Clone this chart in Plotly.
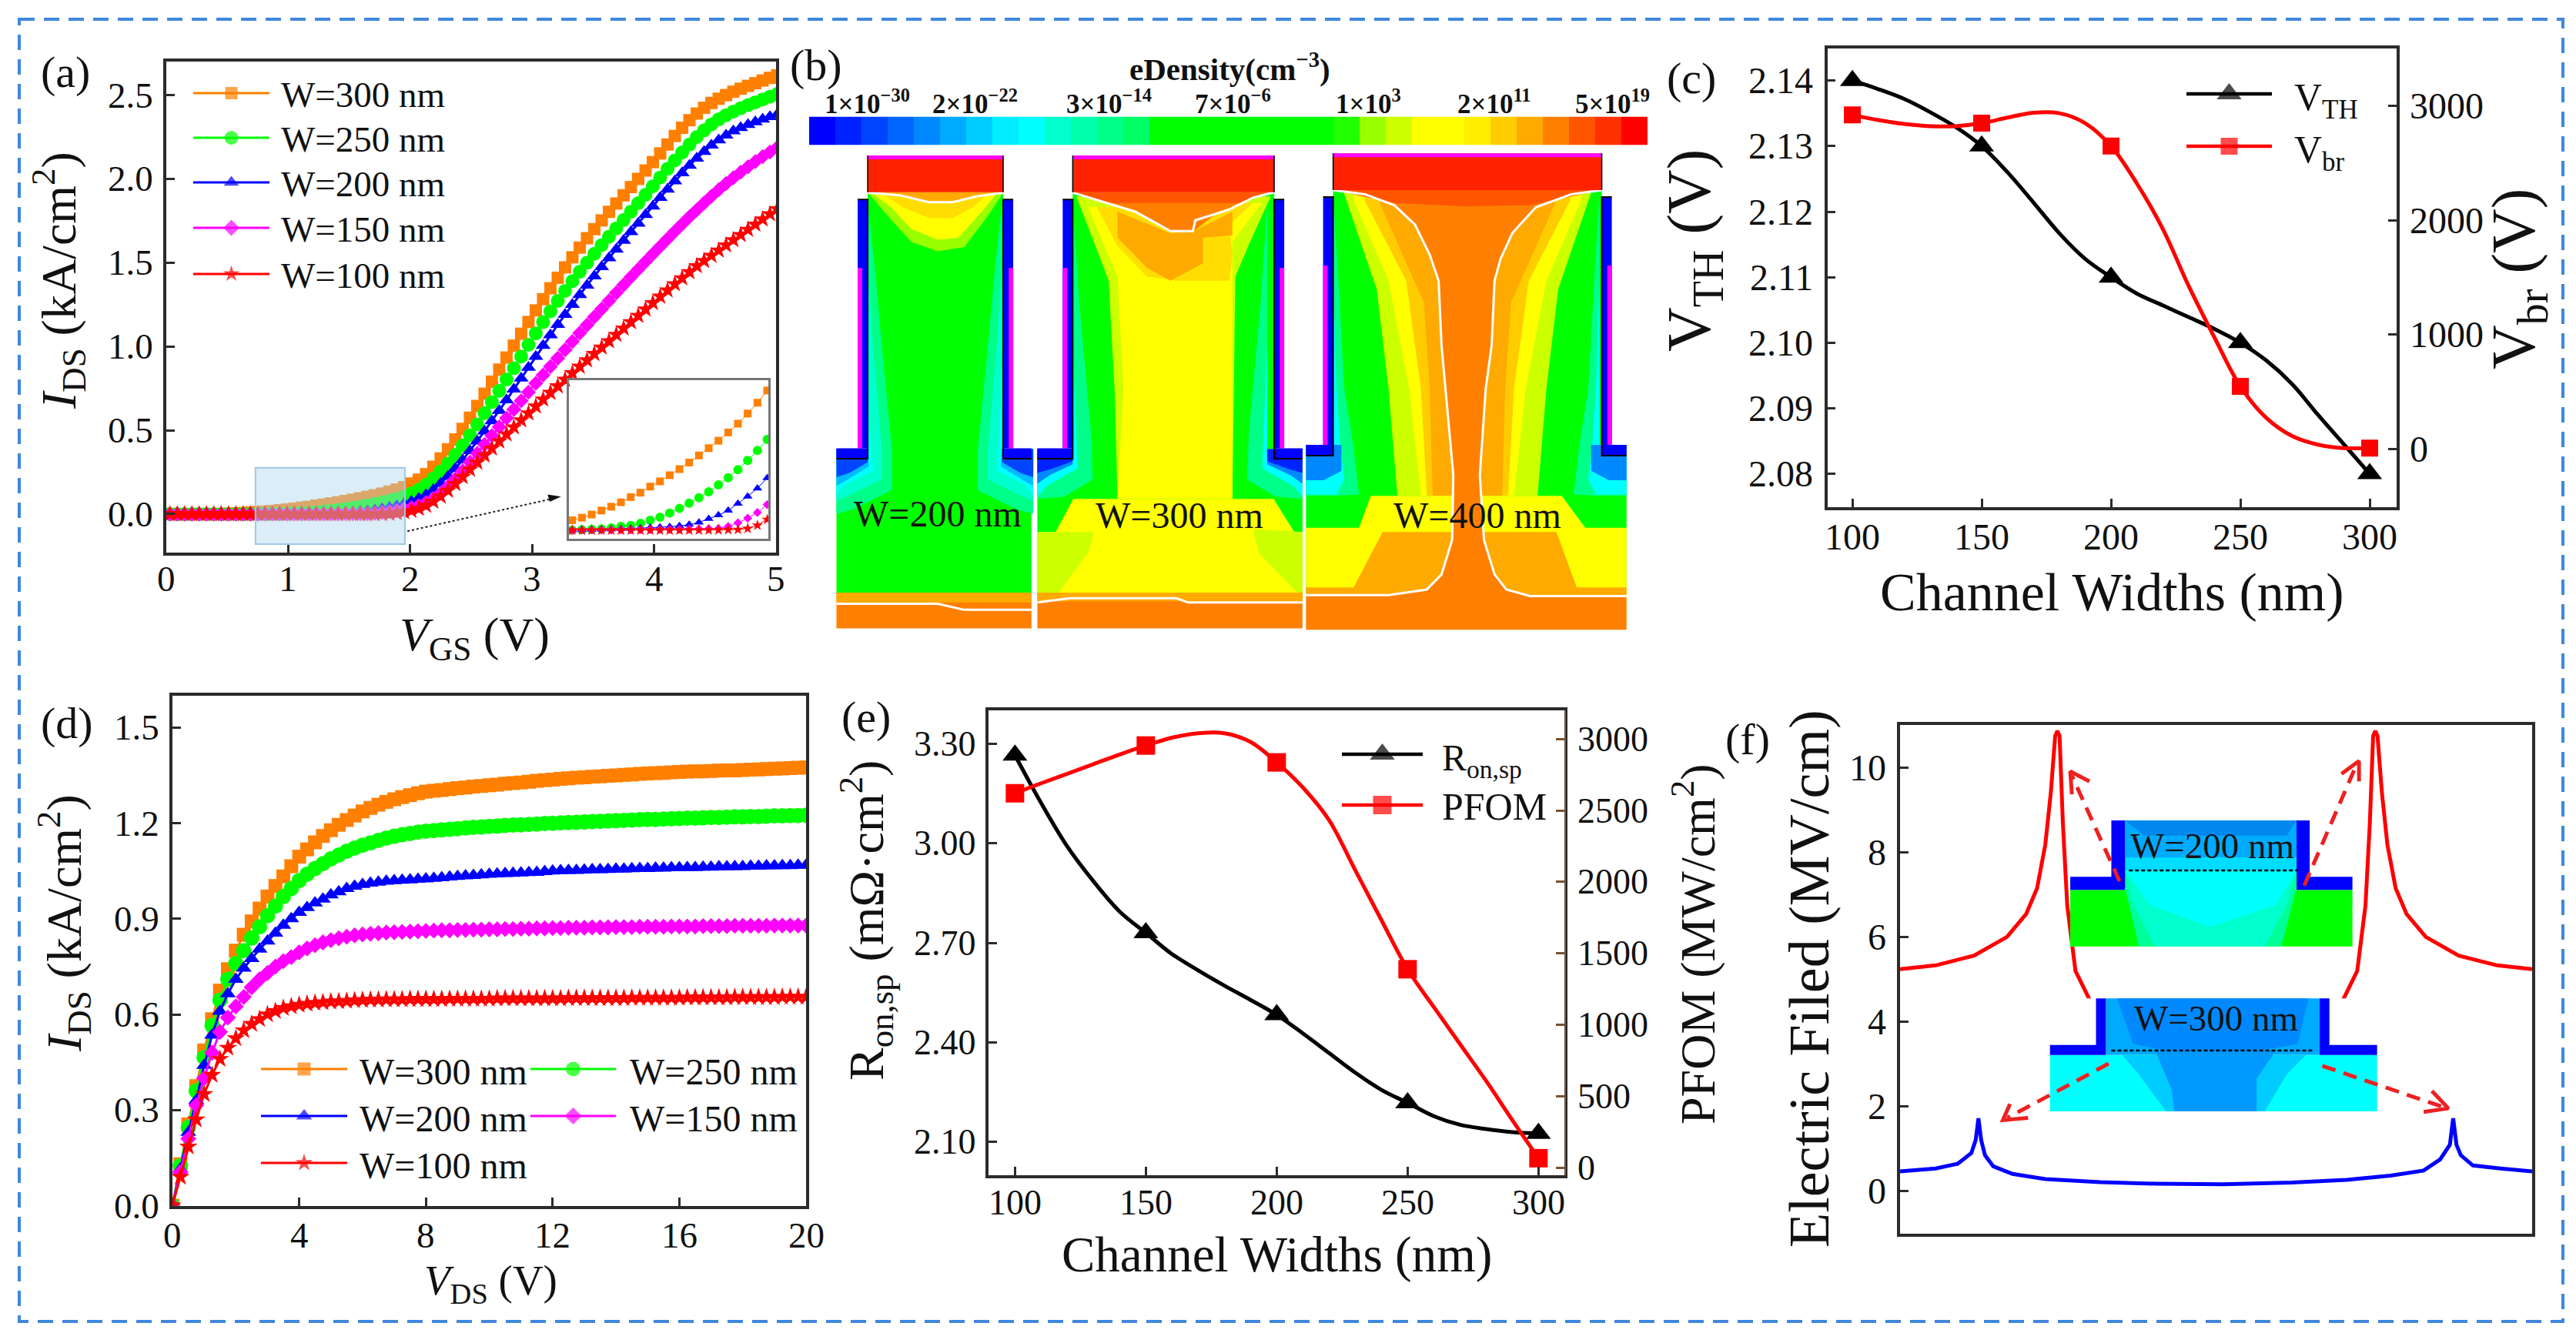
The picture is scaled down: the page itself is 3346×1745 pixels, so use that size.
import plotly.graph_objects as go

W, H = 3346, 1745
SERIF = "Liberation Serif"
AX = "#2b2b2b"

# (a) transfer curves, one point every 0.06 V
vgs = [round(0.03 + 0.06 * i, 2) for i in range(84)]
id_300 = [0, 0, 0, 0, 0, 0, 0, 0, .002, .004, .006, .009,
          .0115, .0144, .018, .0226, .027, .032, .038, .043, .05, .056, .063, .070, .0775, .0857, .094, .1025, .112, .122, .1336, .146, .16,
          .182, .205, .238, .282, .332, .386, .445, .508, .575, .645, .718, .79, .862, .934, 1.005, 1.076, 1.146, 1.215, 1.282, 1.347, 1.41,
          1.472, 1.532, 1.59, 1.646, 1.70, 1.752, 1.803, 1.853, 1.902, 1.951, 2.0, 2.05, 2.10, 2.152, 2.205, 2.256, 2.305, 2.35, 2.39, 2.424,
          2.453, 2.478, 2.5, 2.52, 2.538, 2.555, 2.571, 2.587, 2.603, 2.618]
id_250 = [0, 0, 0, 0, 0, 0, 0, 0, 0, 0, 0, .0001,
          .0003, .0006, .001, .0015, .0026, .0044, .0056, .0079, .0114, .015, .0197, .025, .0311, .0372, .044, .052, .0602, .0693, .0799, .0913, .1039,
          .122, .145, .175, .212, .255, .302, .353, .41, .47, .535, .602, .668, .735, .803, .87, .94, 1.01, 1.078, 1.145, 1.21, 1.272,
          1.332, 1.39, 1.446, 1.5, 1.553, 1.605, 1.655, 1.705, 1.755, 1.805, 1.855, 1.905, 1.956, 2.008, 2.06, 2.11, 2.158, 2.205, 2.25, 2.29,
          2.325, 2.355, 2.38, 2.402, 2.422, 2.44, 2.457, 2.474, 2.49, 2.506]
id_200 = [0, 0, 0, 0, 0, 0, 0, 0, 0, 0, 0, 0,
          .0003, .0005, .0007, .001, .0013, .0017, .002, .0025, .003, .0035, .004, .005, .0065, .009, .0132, .0173, .0226, .0305, .0388, .048, .06,
          .075, .093, .115, .145, .182, .225, .272, .322, .377, .435, .495, .555, .617, .68, .745, .81, .875, .94, 1.005, 1.068, 1.13,
          1.19, 1.25, 1.308, 1.365, 1.42, 1.475, 1.528, 1.58, 1.632, 1.684, 1.735, 1.786, 1.837, 1.888, 1.938, 1.987, 2.035, 2.08, 2.123, 2.163,
          2.2, 2.232, 2.26, 2.285, 2.305, 2.323, 2.34, 2.355, 2.37, 2.385]
id_150 = [0, 0, 0, 0, 0, 0, 0, 0, 0, 0, 0, 0,
          .0001, .0002, .0002, .0003, .0004, .0005, .0006, .0007, .0008, .0009, .001, .0012, .0014, .0016, .0018, .002, .0044, .0085, .0138, .0203, .0294,
          .038, .05, .068, .093, .125, .165, .21, .258, .31, .362, .415, .468, .52, .572, .624, .676, .728, .78, .83, .88, .93,
          .98, 1.03, 1.08, 1.128, 1.176, 1.224, 1.272, 1.32, 1.367, 1.414, 1.46, 1.506, 1.552, 1.597, 1.642, 1.686, 1.73, 1.773, 1.815, 1.856,
          1.896, 1.935, 1.972, 2.007, 2.04, 2.072, 2.103, 2.133, 2.16, 2.188]
id_100 = [0, 0, 0, 0, 0, 0, 0, 0, 0, 0, 0, 0,
          0, 0, 0, 0, 0, 0, 0, 0, 0, 0, 0, 0, .0001, .0001, .0002, .0003, .0005, .0008, .002, .0056, .0123,
          .02, .032, .05, .075, .105, .14, .18, .222, .265, .308, .35, .392, .434, .476, .518, .56, .602, .643, .684, .724, .763,
          .802, .841, .88, .918, .956, .994, 1.032, 1.07, 1.108, 1.146, 1.184, 1.222, 1.26, 1.298, 1.335, 1.372, 1.408, 1.444, 1.48, 1.511,
          1.542, 1.573, 1.604, 1.635, 1.666, 1.697, 1.728, 1.759, 1.79, 1.82]

# (d) output curves, one point every 0.25 V
vds = [round(0.25 * i, 2) for i in range(81)]
od_300 = [0, .13, .255, .375, .487, .585, .675, .742, .80, .85, .892, .932, .97, 1.003, 1.033, 1.065, 1.095, 1.118, 1.14, 1.16, 1.178,
          1.195, 1.21, 1.224, 1.237, 1.248, 1.258, 1.267, 1.275, 1.282, 1.288, 1.294, 1.299, 1.302, 1.304, 1.307, 1.31, 1.312, 1.315, 1.317, 1.319,
          1.321, 1.324, 1.326, 1.328, 1.33, 1.333, 1.335, 1.337, 1.339, 1.341, 1.343, 1.344, 1.346, 1.347, 1.349, 1.35, 1.352, 1.353, 1.355, 1.356,
          1.357, 1.358, 1.36, 1.361, 1.362, 1.363, 1.363, 1.364, 1.365, 1.366, 1.366, 1.367, 1.368, 1.369, 1.37, 1.371, 1.372, 1.373, 1.374, 1.375]
od_250 = [0, .125, .245, .36, .465, .565, .645, .71, .76, .80, .84, .875, .91, .94, .97, .995, 1.02, 1.04, 1.058, 1.073, 1.088,
          1.10, 1.112, 1.122, 1.131, 1.138, 1.146, 1.153, 1.159, 1.164, 1.168, 1.172, 1.175, 1.177, 1.179, 1.181, 1.183, 1.185, 1.187, 1.188, 1.19,
          1.191, 1.193, 1.194, 1.195, 1.196, 1.197, 1.199, 1.2, 1.201, 1.202, 1.203, 1.204, 1.205, 1.206, 1.207, 1.208, 1.209, 1.21, 1.211, 1.212,
          1.212, 1.213, 1.214, 1.215, 1.216, 1.216, 1.217, 1.218, 1.218, 1.219, 1.22, 1.22, 1.221, 1.221, 1.222, 1.223, 1.223, 1.224, 1.224, 1.225]
od_200 = [0, .115, .23, .33, .44, .535, .61, .665, .71, .745, .775, .805, .83, .855, .88, .90, .92, .935, .95, .962, .975,
          .985, .995, 1.002, 1.008, 1.012, 1.015, 1.018, 1.02, 1.021, 1.022, 1.024, 1.025, 1.027, 1.029, 1.031, 1.033, 1.035, 1.036, 1.038, 1.04,
          1.041, 1.042, 1.043, 1.044, 1.045, 1.046, 1.048, 1.05, 1.051, 1.052, 1.052, 1.053, 1.054, 1.054, 1.055, 1.056, 1.056, 1.057, 1.058, 1.058,
          1.059, 1.059, 1.06, 1.06, 1.061, 1.061, 1.062, 1.062, 1.063, 1.063, 1.064, 1.064, 1.065, 1.065, 1.066, 1.066, 1.067, 1.067, 1.068, 1.068]
od_150 = [0, .105, .21, .315, .40, .48, .545, .59, .625, .655, .685, .71, .73, .75, .767, .78, .795, .807, .817, .826, .833,
          .839, .844, .848, .851, .853, .855, .857, .858, .859, .86, .861, .862, .863, .864, .864, .865, .865, .866, .866, .867,
          .867, .868, .868, .869, .869, .87, .87, .871, .871, .872, .872, .872, .873, .873, .873, .874, .874, .874, .875, .875,
          .875, .875, .876, .876, .876, .876, .877, .877, .877, .877, .878, .878, .878, .878, .878, .879, .879, .879, .879, .879]
od_100 = [0, .09, .185, .27, .35, .41, .46, .495, .525, .55, .57, .585, .60, .61, .62, .625, .63, .633, .636, .638, .64,
          .641, .642, .644, .645, .646, .646, .647, .647, .647, .648, .648, .648, .648, .648, .649, .649, .649, .649, .649, .649,
          .65, .65, .65, .65, .65, .65, .65, .65, .65, .651, .651, .651, .651, .651, .651, .651, .651, .652, .652, .652,
          .652, .652, .652, .652, .653, .653, .653, .653, .653, .653, .654, .654, .654, .654, .654, .654, .655, .655, .655, .655]

# (c) threshold and breakdown
widths = [100, 150, 200, 250, 300]
vth_pts = [2.14, 2.13, 2.11, 2.10, 2.08]
vbr_pts = [2921, 2849, 2649, 547, 8]
width_curve = [100, 110, 120, 130, 140, 150, 160, 170, 180, 190, 200, 210, 220, 230, 240, 250, 260, 270, 280, 290, 300]
vth_curve = [2.14, 2.1387, 2.1372, 2.1352, 2.1329, 2.13, 2.126, 2.1214, 2.1167, 2.1128, 2.11, 2.1075, 2.1057, 2.1039, 2.1021, 2.10, 2.0973, 2.0937, 2.089, 2.0845, 2.08]
vbr_curve = [2921, 2876, 2842, 2823, 2823, 2849, 2898, 2940, 2936, 2849, 2649, 2321, 1925, 1427, 975, 547, 272, 113, 38, 8, 8]

# (e) on resistance and PFOM
ron_pts = [3.265, 2.73, 2.483, 2.218, 2.126]
pfom_pts = [2620, 2954, 2836, 1389, 67]
ron_curve = [3.265, 3.121, 2.99, 2.885, 2.794, 2.73, 2.666, 2.617, 2.571, 2.528, 2.483, 2.427, 2.368, 2.309, 2.257, 2.218, 2.178, 2.152, 2.139, 2.13, 2.126]
pfom_curve = [2620, 2690, 2757, 2824, 2891, 2954, 3009, 3040, 3040, 2979, 2836, 2660, 2432, 2082, 1733, 1389, 1125, 866, 608, 334, 67]

# (f) field along the cut line, x has no unit on the chart
pos_200 = [0, 65, 135, 195, 230, 250, 265, 275, 283, 287, 291, 297, 305, 320, 345, 390, 577, 764, 809, 834, 849, 857, 863, 867, 871, 879, 889, 904, 924, 959, 1019, 1089, 1153]
field_200 = [5.24, 5.33, 5.56, 6.0, 6.54, 7.15, 8.18, 9.4, 10.74, 10.86, 10.74, 8.69, 6.74, 5.2, 4.54, 3.9, 3.3, 3.9, 4.54, 5.2, 6.74, 8.69, 10.74, 10.86, 10.74, 9.4, 8.18, 7.15, 6.54, 6.0, 5.56, 5.33, 5.24]
pos_300 = [0, 65, 105, 130, 138, 143, 148, 155, 170, 205, 265, 365, 465, 590, 715, 815, 895, 955, 985, 1003, 1009, 1015, 1023, 1045, 1095, 1153]
field_300 = [.47, .54, .65, .9, 1.21, 1.72, 1.21, .85, .59, .41, .29, .215, .18, .165, .205, .27, .37, .49, .75, 1.1, 1.72, 1.1, .85, .61, .54, .47]

# tick values
a_xt = [0, 1, 2, 3, 4, 5]
a_yt = [0, .5, 1, 1.5, 2, 2.5]
c_yt = [2.08, 2.09, 2.10, 2.11, 2.12, 2.13, 2.14]
c_rt = [0, 1000, 2000, 3000]
d_xt = [0, 4, 8, 12, 16, 20]
d_yt = [0, .3, .6, .9, 1.2, 1.5]
e_yt = [2.1, 2.4, 2.7, 3.0, 3.3]
e_rt = [0, 500, 1000, 1500, 2000, 2500, 3000]
f_yt = [0, 2, 4, 6, 8, 10]

# (b) colour bar bands
band_colors = ["#0000ff", "#0022ff", "#0044ff", "#0066ff", "#0088ff", "#00aaff", "#00ccff", "#00eeff",
               "#00ffff", "#00ffcc", "#00ffaa", "#00ff88", "#00ff66", "#00ff00", "#00ff00",
               "#00ff00", "#00ff00", "#00ff00", "#00ff00", "#00ff00", "#22ff00", "#99ff00", "#ccff00",
               "#ffff00", "#ffff00", "#ffee00", "#ffcc00", "#ffaa00", "#ff8000", "#ff5500", "#ff3000", "#ff0000"]
band_ticks = ["1×10<sup>−30</sup>", "2×10<sup>−22</sup>", "3×10<sup>−14</sup>", "7×10<sup>−6</sup>", "1×10<sup>3</sup>", "2×10<sup>11</sup>", "5×10<sup>19</sup>"]
band_tick_x = [1126, 1266, 1440, 1601, 1777, 1941, 2094]

S_COL = [("W=300 nm", "#ff8000", "square"), ("W=250 nm", "#00ff00", "circle"), ("W=200 nm", "#0000ff", "triangle-up"),
         ("W=150 nm", "#ff00ff", "diamond"), ("W=100 nm", "#ff0000", "star")]
SIZES = [16, 18, 17, 15, 17]
IN_SIZES = [10, 12, 11, 9, 11]

fig = go.Figure()


def dom_x(a, b):
    return [a / W, b / W]


def dom_y(top, bottom):
    return [1 - bottom / H, 1 - top / H]


def base_axis(**kw):
    d = dict(showline=True, mirror=True, linecolor=AX, linewidth=3.5, ticks="inside", ticklen=11, tickwidth=3,
             tickcolor=AX, showgrid=False, zeroline=False, showticklabels=False)
    d.update(kw)
    return d


def add_sweep(x, ys, sizes, xa, ya, lw=3):
    for y, (name, col, sym), s in zip(ys, S_COL, sizes):
        fig.add_trace(go.Scatter(x=x, y=y, mode="lines+markers", name=name, line=dict(color=col, width=lw),
                                 marker=dict(color=col, symbol=sym, size=s, line=dict(width=0)),
                                 xaxis=xa, yaxis=ya, showlegend=False))


add_sweep(vgs, [id_300, id_250, id_200, id_150, id_100], SIZES, "x", "y")
add_sweep(vgs, [id_300, id_250, id_200, id_150, id_100], IN_SIZES, "x2", "y2", lw=1)
add_sweep(vds, [od_300, od_250, od_200, od_150, od_100], [18, 20, 18, 16, 18], "x5", "y5")


def add_pair(curve, pts, xa, ya, col, sym, size, name):
    fig.add_trace(go.Scatter(x=width_curve, y=curve, mode="lines", line=dict(color=col, width=5, shape="spline"),
                             xaxis=xa, yaxis=ya, showlegend=False, name=name))
    fig.add_trace(go.Scatter(x=widths, y=pts, mode="markers", marker=dict(color=col, symbol=sym, size=size),
                             xaxis=xa, yaxis=ya, showlegend=False, name=name))


add_pair(vth_curve, vth_pts, "x3", "y3", "#000000", "triangle-up", 28, "VTH")
add_pair(vbr_curve, vbr_pts, "x3", "y4", "#ff0000", "square", 22, "Vbr")
add_pair(ron_curve, ron_pts, "x6", "y6", "#000000", "triangle-up", 28, "Ron,sp")
add_pair(pfom_curve, pfom_pts, "x6", "y7", "#ff0000", "square", 24, "PFOM")

fig.add_trace(go.Scatter(x=pos_200, y=field_200, mode="lines", line=dict(color="#ff0000", width=5),
                         xaxis="x8", yaxis="y8", showlegend=False, name="W=200 nm"))
fig.add_trace(go.Scatter(x=pos_300, y=field_300, mode="lines", line=dict(color="#0000ff", width=5),
                         xaxis="x8", yaxis="y8", showlegend=False, name="W=300 nm"))

# colour bar
n = len(band_colors)
fig.add_trace(go.Heatmap(z=[list(range(n))], x=list(range(n)), y=[0], showscale=False, zmin=0, zmax=n - 1,
                         colorscale=[[i / (n - 1), c] for i, c in enumerate(band_colors)],
                         xaxis="x9", yaxis="y9", hoverinfo="skip"))


# everything below is drawn in picture pixels on a hidden overlay axis
def za(x, y):
    return x / 1.493, y / 1.782


def zb(x, y):
    return 1000 + x / 1.3067, y / 1.782


def zf(x, y):
    return 2230 + x / 1.405, 860 + y / 1.772


def poly(conv, pts, color):
    xy = [conv(*p) for p in pts]
    fig.add_trace(go.Scatter(x=[p[0] for p in xy] + [xy[0][0]], y=[p[1] for p in xy] + [xy[0][1]], fill="toself",
                             fillcolor=color, mode="none", xaxis="x10", yaxis="y10", showlegend=False, hoverinfo="skip"))


def path(conv, pts, color, width=3, dash="solid"):
    xy = [conv(*p) for p in pts]
    fig.add_trace(go.Scatter(x=[p[0] for p in xy], y=[p[1] for p in xy], mode="lines",
                             line=dict(color=color, width=width, dash=dash), xaxis="x10", yaxis="y10",
                             showlegend=False, hoverinfo="skip"))


def both(conv, pts, color, cx):
    poly(conv, pts, color)
    poly(conv, [(2 * cx - x, y) for x, y in pts], color)


def frame(xl, xr, ytop, ycut, yox, ymag, ystep, yfoot, bl, br):
    # contact, oxide and foot of one device
    poly(zb, [(xl, ytop), (xr, ytop), (xr, ycut), (xl, ycut)], "#ff2200")
    poly(zb, [(xl, ytop), (xr, ytop), (xr, ytop + 9), (xl, ytop + 9)], "#ff00ff")
    poly(zb, [(bl, ystep), (xl, ystep), (xl, yfoot), (bl, yfoot)], "#0000ff")
    poly(zb, [(br, ystep), (xr, ystep), (xr, yfoot), (br, yfoot)], "#0000ff")
    for s, e in ((xl, xl - 17), (xr, xr + 17)):
        poly(zb, [(s, yox), (e, yox), (e, ymag), (s, ymag)], "#0000ff")
        poly(zb, [(s, ymag), (e, ymag), (e, ystep), (s, ystep)], "#0000ff")
        mid = e + (s - e) * 0.45
        poly(zb, [(e, ymag), (mid, ymag), (mid, ystep), (e, ystep)], "#ff00ff")
    path(zb, [(bl, yfoot), (xl, yfoot), (xl, yox), (xl - 17, yox)], "#000000", 2)
    path(zb, [(br, yfoot), (xr, yfoot), (xr, yox), (xr + 17, yox)], "#000000", 2)
    path(zb, [(xl, ytop), (xl, ycut)], "#000000", 1.5)
    path(zb, [(xr, ytop), (xr, ycut)], "#000000", 1.5)


# device W=200
poly(zb, [(166, 445), (396, 445), (396, 1040), (444, 1040), (444, 1372), (113, 1372), (113, 1040), (166, 1040)], "#00ff00")
poly(zb, [(166, 445), (396, 445), (370, 500), (330, 572), (285, 582), (240, 560), (200, 500)], "#99ff00")
poly(zb, [(175, 448), (385, 448), (360, 490), (320, 550), (285, 555), (240, 530), (205, 480)], "#ffff00")
poly(zb, [(190, 448), (370, 448), (345, 480), (310, 505), (270, 505), (225, 480)], "#ffdd00")
poly(zb, [(166, 445), (396, 445), (350, 456), (310, 470), (270, 470), (220, 455)], "#ffaa00")
both(zb, [(166, 470), (178, 620), (190, 800), (207, 1040), (207, 1135), (140, 1180), (113, 1190), (113, 1040), (166, 1040)], "#00ff88", 280)
both(zb, [(166, 620), (175, 800), (190, 1040), (190, 1110), (130, 1150), (113, 1160), (113, 1040), (166, 1040)], "#00ffcc", 280)
both(zb, [(166, 830), (170, 1000), (175, 1090), (125, 1125), (113, 1150), (113, 1040), (166, 1040)], "#00ffff", 280)
both(zb, [(113, 1040), (166, 1040), (168, 1080), (130, 1112), (113, 1125)], "#00bbff", 280)
both(zb, [(113, 1040), (166, 1040), (166, 1070), (135, 1095), (113, 1105)], "#0044ff", 280)
poly(zb, [(113, 1372), (444, 1372), (444, 1455), (113, 1455)], "#ff8000")
poly(zb, [(113, 1372), (444, 1372), (444, 1395), (113, 1395)], "#ffaa00")
path(zb, [(113, 1398), (285, 1398), (330, 1412), (444, 1412)], "#ffffff", 3)
path(zb, [(166, 446), (220, 452), (270, 468), (310, 468), (350, 455), (396, 446)], "#ffffff", 3)
frame(166, 396, 360, 445, 462, 620, 1038, 1062, 113, 444)

# device W=300
poly(zb, [(514, 445), (856, 445), (856, 1040), (904, 1040), (904, 1372), (454, 1372), (454, 1040), (514, 1040)], "#00ff00")
poly(zb, [(454, 1232), (485, 1232), (515, 1155), (855, 1155), (890, 1232), (904, 1232), (904, 1372), (454, 1372)], "#ffff00")
poly(zb, [(454, 1232), (550, 1232), (540, 1280), (490, 1372), (454, 1372)], "#ccff00")
poly(zb, [(904, 1232), (820, 1225), (830, 1280), (895, 1372), (904, 1372)], "#ccff00")
poly(zb, [(520, 455), (850, 455), (815, 560), (790, 640), (785, 1155), (590, 1155), (585, 900), (575, 650), (550, 560)], "#ccff00")
poly(zb, [(540, 480), (835, 470), (785, 560), (785, 1155), (590, 1155), (600, 900), (590, 640), (565, 560)], "#ffff00")
poly(zb, [(555, 480), (820, 470), (780, 520), (785, 590), (780, 650), (690, 650), (640, 640), (590, 570)], "#ffdd00")
poly(zb, [(590, 490), (680, 540), (720, 535), (785, 490), (785, 545), (735, 550), (735, 610), (680, 650), (640, 620), (590, 550)], "#ffaa00")
poly(zb, [(514, 445), (856, 445), (820, 460), (760, 492), (720, 535), (680, 535), (620, 490), (560, 466)], "#ff8000")
poly(zb, [(514, 445), (856, 445), (800, 470), (570, 470)], "#ff5500")
both(zb, [(514, 470), (525, 700), (545, 1000), (548, 1110), (500, 1150), (454, 1155), (454, 1040), (514, 1040)], "#00ff88", 679)
both(zb, [(514, 800), (520, 1000), (522, 1085), (470, 1125), (454, 1150), (454, 1040), (514, 1040)], "#00ffff", 679)
both(zb, [(454, 1040), (514, 1040), (514, 1075), (475, 1100), (454, 1120)], "#0088ff", 679)
both(zb, [(454, 1040), (514, 1040), (514, 1068), (480, 1085), (454, 1095)], "#0022ff", 679)
poly(zb, [(454, 1372), (904, 1372), (904, 1455), (454, 1455)], "#ff8000")
poly(zb, [(454, 1372), (904, 1372), (904, 1392), (454, 1392)], "#ffaa00")
path(zb, [(454, 1395), (510, 1385), (690, 1385), (710, 1395), (904, 1395)], "#ffffff", 3)
path(zb, [(514, 446), (560, 465), (620, 490), (680, 535), (718, 535), (722, 510), (780, 485), (820, 458), (856, 445)], "#ffffff", 3)
frame(514, 856, 360, 445, 462, 620, 1038, 1062, 454, 904)

# device W=400
poly(zb, [(956, 440), (1412, 440), (1412, 1030), (1454, 1030), (1454, 1378), (910, 1378), (910, 1030), (956, 1030)], "#00ff00")
both(zb, [(975, 450), (1030, 670), (1050, 900), (1065, 1148), (1182, 1148), (1182, 440), (975, 440)], "#ccff00", 1184)
both(zb, [(990, 460), (1050, 650), (1085, 900), (1105, 1148), (1182, 1148), (1182, 440), (990, 440)], "#ffff00", 1184)
both(zb, [(1010, 465), (1080, 650), (1105, 900), (1115, 1148), (1182, 1148), (1182, 440), (1010, 440)], "#ffcc00", 1184)
both(zb, [(1035, 470), (1110, 700), (1120, 900), (1125, 1148), (1182, 1148), (1182, 440), (1035, 440)], "#ffaa00", 1184)
poly(zb, [(910, 1222), (1000, 1222), (1020, 1148), (1344, 1148), (1384, 1222), (1454, 1222), (1454, 1378), (910, 1378)], "#ffff00")
poly(zb, [(1040, 1232), (990, 1362), (1370, 1362), (1335, 1232)], "#ffaa00")
poly(zb, [(910, 1360), (1454, 1360), (1454, 1380), (910, 1380)], "#ffaa00")
both(zb, [(956, 445), (965, 650), (975, 900), (990, 1030), (1000, 1145), (960, 1148), (910, 1148), (910, 1030), (956, 1030)], "#00ff88", 1182)
both(zb, [(956, 640), (962, 900), (968, 1030), (975, 1110), (962, 1145), (910, 1145), (910, 1030), (956, 1030)], "#00ffff", 1182)
both(zb, [(910, 1030), (970, 1030), (970, 1090), (940, 1112), (910, 1112)], "#0088ff", 1182)
poly(zb, [(956, 440), (1412, 440), (1360, 450), (1300, 480), (1280, 510), (1260, 540), (1240, 600), (1230, 650), (1225, 800), (1215, 900),
          (1205, 1100), (1212, 1250), (1230, 1330), (1250, 1365), (1290, 1380), (1454, 1380), (1454, 1458), (910, 1458), (910, 1378),
          (1050, 1378), (1115, 1365), (1140, 1330), (1158, 1250), (1160, 1100), (1150, 950), (1140, 800), (1135, 650), (1120, 590), (1095, 520),
          (1060, 475), (1010, 450)], "#ff8000")
poly(zb, [(956, 440), (1412, 440), (1290, 475), (1180, 478), (1060, 470)], "#ff5500")
path(zb, [(956, 440), (1010, 450), (1060, 475), (1095, 520), (1120, 590), (1135, 650), (1140, 800), (1150, 950), (1160, 1100), (1158, 1250),
          (1140, 1330), (1115, 1365), (1050, 1378), (910, 1378)], "#ffffff", 3)
path(zb, [(1412, 440), (1360, 450), (1300, 480), (1280, 510), (1260, 540), (1240, 600), (1230, 650), (1225, 800), (1215, 900), (1205, 1100),
          (1212, 1250), (1230, 1330), (1250, 1365), (1290, 1380), (1454, 1380)], "#ffffff", 3)
frame(956, 1412, 355, 440, 456, 615, 1030, 1055, 910, 1454)

# (f) insets, W=200
poly(zf, [(645, 365), (1160, 365), (1160, 655), (645, 655)], "#ffffff")
poly(zf, [(745, 365), (1058, 365), (1058, 520), (745, 520)], "#00aaff")
poly(zf, [(745, 365), (1058, 365), (1040, 400), (780, 400)], "#0088ee")
poly(zf, [(745, 450), (1058, 450), (1058, 520), (745, 520)], "#00ddff")
poly(zf, [(645, 525), (1160, 525), (1160, 655), (645, 655)], "#00ff00")
poly(zf, [(745, 480), (1058, 480), (1058, 520), (1030, 655), (770, 655), (745, 520)], "#00ff99")
poly(zf, [(745, 480), (1058, 480), (1040, 560), (1000, 655), (800, 655), (760, 560)], "#00ffcc")
poly(zf, [(745, 480), (1058, 480), (1020, 560), (900, 610), (790, 560)], "#00ffff")
poly(zf, [(720, 365), (745, 365), (745, 525), (645, 525), (645, 495), (720, 495)], "#0000ff")
poly(zf, [(1082, 365), (1058, 365), (1058, 525), (1160, 525), (1160, 495), (1082, 495)], "#0000ff")
path(zf, [(752, 480), (1060, 480)], "#000000", 2.5, "5px,3px")
# W=300
poly(zf, [(608, 775), (1205, 775), (1205, 1035), (608, 1035)], "#ffffff")
poly(zf, [(710, 775), (1100, 775), (1100, 905), (710, 905)], "#00aaff")
poly(zf, [(730, 775), (1080, 775), (1060, 880), (950, 905), (860, 905), (760, 880)], "#0088ff")
poly(zf, [(608, 905), (1205, 905), (1205, 1035), (608, 1035)], "#00ffff")
poly(zf, [(740, 905), (1075, 905), (1040, 950), (1000, 1035), (820, 1035), (770, 950)], "#00ccff")
poly(zf, [(800, 895), (1020, 895), (985, 960), (985, 1035), (835, 1035), (830, 985)], "#0099ff")
poly(zf, [(692, 775), (710, 775), (710, 905), (608, 905), (608, 882), (692, 882)], "#0000ff")
poly(zf, [(1118, 775), (1100, 775), (1100, 905), (1205, 905), (1205, 882), (1118, 882)], "#0000ff")
path(zf, [(720, 895), (1090, 895)], "#000000", 2.5, "5px,3px")

# red dashed arrows
for line, head in (([(735, 505), (648, 262)], [(680, 275), (645, 252), (648, 305)]),
                   ([(1072, 515), (1168, 235)], [(1140, 258), (1172, 228), (1172, 275)]),
                   ([(715, 925), (530, 1050)], [(535, 1018), (522, 1055), (568, 1050)]),
                   ([(1105, 930), (1328, 1026)], [(1305, 988), (1335, 1028), (1290, 1036)])):
    path(zf, line, "#ee2020", 5, "18px,11px")
    path(zf, head, "#ee2020", 5)

# dotted arrow and inset frame link in (a)
path(za, [(790, 1230), (1070, 1155)], "#222222", 2, "3px,3px")
poly(za, [(1088, 1150), (1062, 1145), (1066, 1162)], "#111111")


def label(text, x, y, size, angle=None, anchor="center", bold=False, color="#111111"):
    t = f"<b>{text}</b>" if bold else text
    extra = {} if angle is None else {"textangle": angle}
    fig.add_annotation(x=x, y=y, xref="x10", yref="y10", text=t, showarrow=False, xanchor=anchor, yanchor="middle",
                       font=dict(family=SERIF, size=size, color=color), **extra)


def x_tick_texts(vals, xa, y, size, fmt="{:g}"):
    # tick labels sit on the axis scale, only their row is given in pixels
    for v in vals:
        fig.add_annotation(x=v, y=y, xref=xa, yref="y10", text=fmt.format(v), showarrow=False, xanchor="center", yanchor="middle",
                           font=dict(family=SERIF, size=size, color="#111111"))


def y_tick_texts(vals, ya, x, size, fmt="{:g}", anchor="right"):
    for v in vals:
        fig.add_annotation(x=x, y=v, xref="x10", yref=ya, text=fmt.format(v), showarrow=False, xanchor=anchor, yanchor="middle",
                           font=dict(family=SERIF, size=size, color="#111111"))


x_tick_texts(a_xt, "x", 752, 47)
y_tick_texts(a_yt, "y", 201, 47, "{:.1f}")
x_tick_texts(widths, "x3", 697, 48)
y_tick_texts(c_yt, "y3", 2357, 48, "{:.2f}")
y_tick_texts(c_rt, "y4", 3128, 48, anchor="left")
x_tick_texts(d_xt, "x5", 1605, 47)
y_tick_texts(d_yt, "y5", 209, 47, "{:.1f}")
x_tick_texts(widths, "x6", 1562, 46)
y_tick_texts(e_yt, "y6", 1270, 46, "{:.2f}")
y_tick_texts(e_rt, "y7", 2047, 46, anchor="left")
y_tick_texts(f_yt, "y8", 2452, 48)


def key(x0, x1, y, col, sym, size, text, tx, ty, fs, lw=3):
    fig.add_trace(go.Scatter(x=[x0, (x0 + x1) / 2, x1], y=[y, y, y], mode="lines+markers", line=dict(color=col, width=lw),
                             marker=dict(color=col, symbol=sym, size=[0, size, 0], line=dict(width=0)),
                             xaxis="x10", yaxis="y10", showlegend=False, hoverinfo="skip"))
    label(text, tx, ty, fs, anchor="left")


# legends
for (name, col, sym), y, s in zip(S_COL, [121, 179, 237, 296, 356], [16, 18, 17, 16, 16]):
    key(251, 350, y, col, sym, s, name, 363, y + 2, 47)
d_rows = [(339, 451, 395, 465, 1389), (689, 800, 744, 816, 1389), (339, 451, 395, 465, 1450), (689, 800, 744, 816, 1450), (339, 451, 395, 465, 1511)]
for (name, col, sym), (x0, x1, xm, tx, y), s in zip(S_COL, d_rows, [17, 19, 18, 17, 17]):
    key(x0, x1, y, col, sym, s, name, tx, y + 3, 48)
key(2840, 2951, 122, "#000000", "triangle-up", 28, "V<sub>TH</sub>", 2978, 130, 50, 4.5)
key(2840, 2951, 190, "#ff0000", "square", 22, "V<sub>br</sub>", 2978, 198, 50, 4.5)
key(1743, 1848, 980, "#000000", "triangle-up", 28, "R<sub>on,sp</sub>", 1871, 988, 48, 4.5)
key(1743, 1848, 1046, "#ff0000", "square", 24, "PFOM", 1871, 1048, 50, 4.5)

# panel letters
for text, x, y in (("(a)", 85, 93), ("(b)", 1060, 84), ("(c)", 2197, 101), ("(d)", 87, 939), ("(e)", 1125, 931), ("(f)", 2270, 960)):
    label(text, x, y, 58)

# axis titles
label("<i>I</i><sub>DS</sub> (kA/cm<sup>2</sup>)", 76, 365, 64, -90)
label("<i>V</i><sub>GS</sub> (V)", 616, 828, 62)
label("V<sub>TH</sub> (V)", 2200, 325, 80, -90)
label("V<sub>br</sub> (V)", 3271, 362, 80, -90)
label("Channel Widths (nm)", 2743, 769, 70)
label("<i>I</i><sub>DS</sub> (kA/cm<sup>2</sup>)", 83, 1200, 64, -90)
label("<i>V</i><sub>DS</sub> (V)", 637, 1667, 55)
label("R<sub>on,sp</sub> (mΩ·cm<sup>2</sup>)", 1125, 1196, 64, -90)
label("PFOM (MW/cm<sup>2</sup>)", 2200, 1227, 64, -90)
label("Channel Widths (nm)", 1658, 1630, 65)
label("Electric Filed (MV/cm)", 2350, 1272, 74, -90)

# colour bar texts and device labels
label("eDensity(cm<sup>−3</sup>)", 1597, 87, 41, bold=True)
for text, x in zip(band_ticks, band_tick_x):
    label(text, x, 132, 35, bold=True)
for text, x, y in (("W=200 nm", 1218, 667), ("W=300 nm", 1532, 669), ("W=400 nm", 1919, 669)):
    label(text, x, y, 48)
for text, x, y in (("W=200 nm", 2873, 1099), ("W=300 nm", 2878, 1323)):
    label(text, x, y, 47)

# outer dashed frame and the zoom window of (a)
fig.add_shape(type="rect", x0=25, x1=3329, y0=25, y1=1717, xref="x10", yref="y10",
              line=dict(color="#3f88dc", width=4, dash="20px,12px"), fillcolor="rgba(0,0,0,0)")
fig.add_shape(type="rect", x0=0.731, x1=1.957, y0=-0.18, y1=0.276, xref="x", yref="y",
              line=dict(color="#a0c8e4", width=2), fillcolor="rgba(176,216,235,0.45)")

hide = dict(visible=False, fixedrange=True)
fig.update_layout(
    width=W, height=H, autosize=False, margin=dict(l=0, r=0, t=0, b=0), showlegend=False,
    paper_bgcolor="#ffffff", plot_bgcolor="rgba(0,0,0,0)", font=dict(family=SERIF),
    xaxis=base_axis(domain=dom_x(216, 1008), range=[0, 5], tickvals=a_xt, anchor="y"),
    yaxis=base_axis(domain=dom_y(80, 718), range=[-0.23, 2.70], tickvals=a_yt, anchor="x"),
    xaxis2=base_axis(domain=dom_x(739, 998), range=[0.73, 1.957], ticks="", linecolor="#777777", linewidth=3, anchor="y2"),
    yaxis2=base_axis(domain=dom_y(494, 700), range=[-0.0097, 0.1718], ticks="", linecolor="#777777", linewidth=3, anchor="x2"),
    xaxis3=base_axis(domain=dom_x(2373.5, 3112.6), range=[90.3, 310.3], tickvals=widths, anchor="y3"),
    yaxis3=base_axis(domain=dom_y(63, 659), range=[2.0749, 2.1449], tickvals=c_yt, anchor="x3"),
    yaxis4=base_axis(domain=dom_y(63, 659), range=[-509, 3502], tickvals=c_rt, overlaying="y3", side="right", anchor="x3", mirror=False),
    xaxis5=base_axis(domain=dom_x(224, 1047), range=[0, 20], tickvals=d_xt, anchor="y5"),
    yaxis5=base_axis(domain=dom_y(904, 1566.5), range=[0, 1.6], tickvals=d_yt, anchor="x5"),
    xaxis6=base_axis(domain=dom_x(1284, 2032), range=[89.9, 309.9], tickvals=widths, anchor="y6"),
    yaxis6=base_axis(domain=dom_y(923, 1527), range=[2.0, 3.4], tickvals=e_yt, anchor="x6"),
    yaxis7=base_axis(domain=dom_y(923, 1527), range=[-52, 3200], tickvals=e_rt, overlaying="y6", side="right",
                     anchor="x6", mirror=False, linecolor="#7a5230", linewidth=2, tickcolor="#7a5230"),
    xaxis8=base_axis(domain=dom_x(2468, 3289), range=[0, 1153], ticks="", anchor="y8"),
    yaxis8=base_axis(domain=dom_y(942, 1603), range=[-1, 11], tickvals=f_yt, anchor="x8"),
    xaxis9=dict(domain=dom_x(1051, 2140), range=[-0.5, n - 0.5], **hide, anchor="y9"),
    yaxis9=dict(domain=dom_y(151.5, 188.5), range=[-0.5, 0.5], **hide, anchor="x9"),
    xaxis10=dict(domain=[0, 1], range=[0, W], **hide, anchor="y10"),
    yaxis10=dict(domain=[0, 1], range=[H, 0], **hide, anchor="x10"),
)

fig.write_html("out.html", config={"displayModeBar": False},
               post_script="var g=document.querySelector('.plotly-graph-div');g.style.position='fixed';g.style.left='0';g.style.top='0';document.body.style.margin='0';")
